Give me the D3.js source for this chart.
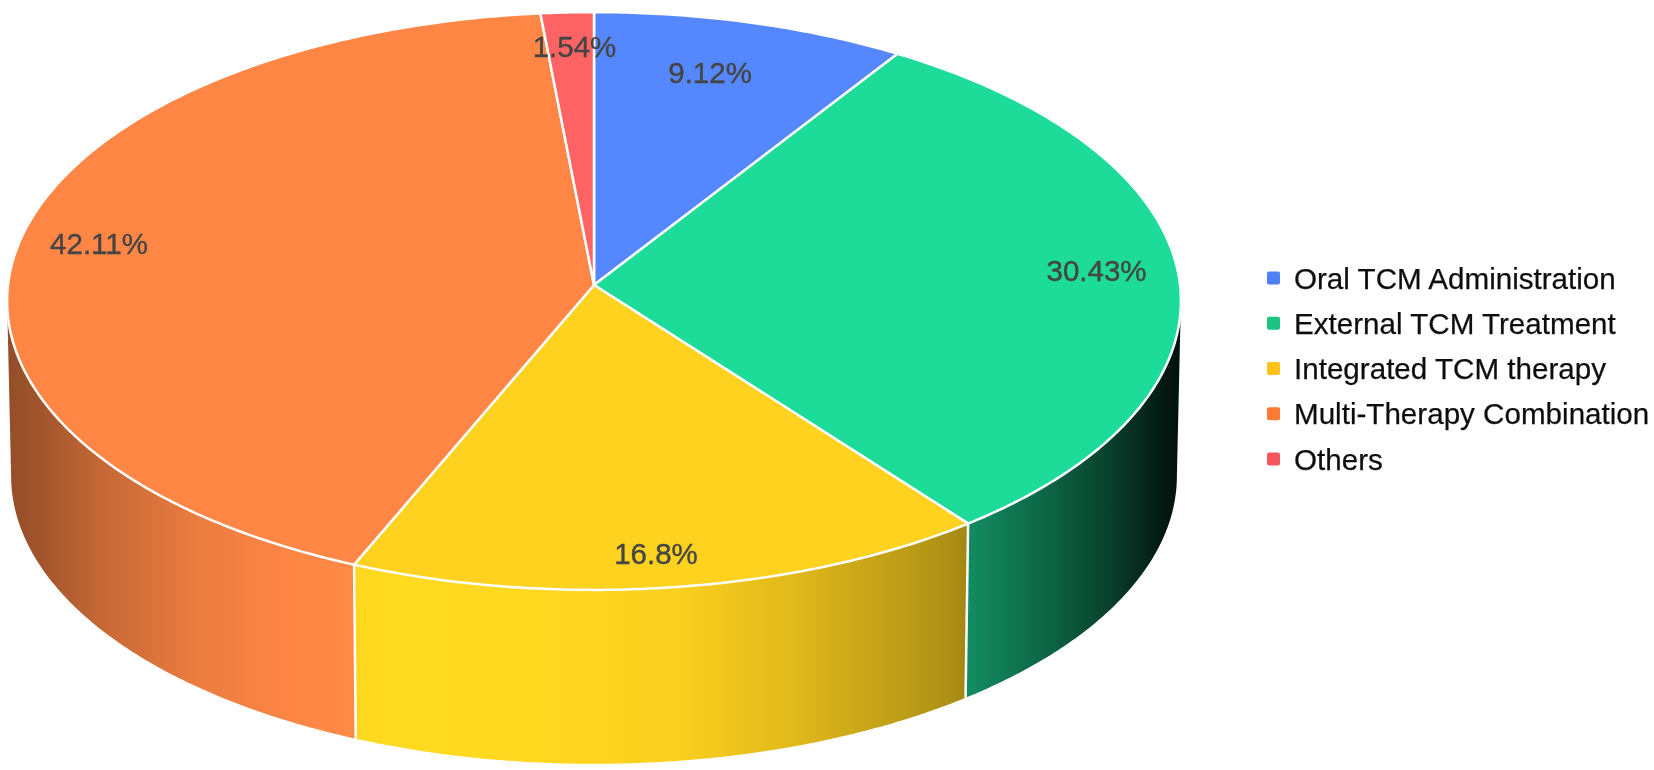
<!DOCTYPE html>
<html><head><meta charset="utf-8">
<script src="https://cdn.jsdelivr.net/npm/d3@7/dist/d3.min.js"></script>
<style>html,body{margin:0;padding:0;background:#fff;overflow:hidden}svg{display:block}text{font-family:"Liberation Sans",Arial,sans-serif}</style>
</head><body><svg id="c" width="1654" height="770"></svg>
<script>
const categories = ["Oral TCM Administration","External TCM Treatment","Integrated TCM therapy","Multi-Therapy Combination","Others"];
const values = [9.12,30.43,16.8,42.11,1.54];
const valueLabels = ["9.12%","30.43%","16.8%","42.11%","1.54%"];
const topColors = ["#5588FF","#1DDB98","#FFD21F","#FF8645","#FF6363"];
const legendColors = ["#4F7FF5","#1CC483","#FFC21A","#FF7A35","#F5545C"];

// layout
const persp = 0.0554;
const topDisc = {x0:594,y0:285,a:586,b:288};
const botDisc = {x0:594,y0:460,a:582,b:287};
const labelRadius = [0.80,0.86,0.885,0.85,0.87];
const labelNudge = [[-11,0],[0,-4],[-8,3],[-6,-5],[4,0]];
const shadeT = [0,0.023,0.078,0.164,0.25,0.33,0.45,0.57,0.67,0.80,0.89,0.946,0.99,1];
const shadeK = [0.58,0.62,0.77,0.93,1.0,1.04,1.03,0.99,0.88,0.69,0.45,0.27,0.10,0.08];

const project = (d,ang,r=1)=>{
  const u=r*Math.sin(ang), v=r*Math.cos(ang), w=1+persp*v;
  return [d.x0+d.a*u/w, d.y0-d.b*v/w];
};
const samples=(a0,a1)=>d3.range(0,1.0001,1/Math.max(2,Math.ceil((a1-a0)/0.01))).map(t=>a0+(a1-a0)*t);
const line=d3.line();
const svg=d3.select("#c");
const arcs=d3.pie().sort(null).value(d=>d)(values);

const defs=svg.append("defs");
defs.append("filter").attr("id","soft").attr("x","-5%").attr("y","-20%").attr("width","110%").attr("height","140%")
  .append("feGaussianBlur").attr("stdDeviation",0.45);
const xs=d3.scaleLinear().domain([0,1]).range([botDisc.x0-topDisc.a,botDisc.x0+topDisc.a]);
topColors.forEach((c,i)=>{
  const g=defs.append("linearGradient").attr("id","side"+i).attr("gradientUnits","userSpaceOnUse")
    .attr("x1",xs(0)).attr("x2",xs(1)).attr("y1",0).attr("y2",0);
  shadeT.forEach((t,j)=>{
    const k=shadeK[j],rgb=d3.rgb(c);
    g.append("stop").attr("offset",t).attr("stop-color",d3.rgb(Math.min(255,rgb.r*k),Math.min(255,rgb.g*k),Math.min(255,rgb.b*k)).formatHex());
  });
});

// visible side walls (front half of the drum)
const frontA=Math.PI/2+persp, frontB=3*Math.PI/2-persp;
const sides=svg.append("g");
arcs.forEach((d,i)=>{
  const a0=Math.max(d.startAngle,frontA), a1=Math.min(d.endAngle,frontB);
  if(a1<=a0) return;
  const s=samples(a0,a1);
  const pts=s.map(a=>project(topDisc,a)).concat(s.slice().reverse().map(a=>project(botDisc,a)));
  sides.append("path").attr("d",line(pts)+"Z").attr("fill",`url(#side${i})`);
});
// seams between walls
arcs.forEach(d=>{
  const a=d.endAngle;
  if(a>frontA&&a<frontB){
    sides.append("path").attr("d",line([project(topDisc,a),project(botDisc,a)]))
      .attr("stroke","#fff").attr("stroke-width",2.5).attr("fill","none");
  }
});
// top face
const faces=svg.append("g");
arcs.forEach((d,i)=>{
  const pts=[project(topDisc,0,0)].concat(samples(d.startAngle,d.endAngle).map(a=>project(topDisc,a)));
  faces.append("path").attr("d",line(pts)+"Z").attr("fill",topColors[i])
    .attr("stroke","#fff").attr("stroke-width",2.5).attr("stroke-linejoin","round");
});
// value labels
const labels=svg.append("g").attr("filter","url(#soft)");
arcs.forEach((d,i)=>{
  const m=(d.startAngle+d.endAngle)/2,[x,y]=project(topDisc,m,labelRadius[i]);
  labels.append("text").attr("x",x+labelNudge[i][0]).attr("y",y+labelNudge[i][1]).attr("dy","0.35em")
    .attr("text-anchor","middle").attr("font-size",29.5).attr("fill","#454545")
    .attr("stroke","#454545").attr("stroke-width",0.4).text(valueLabels[i]);
});
// legend
const ly=d3.scalePoint().domain(categories).range([278,459]);
const legend=svg.append("g").attr("filter","url(#soft)");
categories.forEach((c,i)=>{
  legend.append("rect").attr("x",1267).attr("y",ly(c)-6.5).attr("width",13).attr("height",13).attr("rx",2).attr("fill",legendColors[i]);
  legend.append("text").attr("x",1294).attr("y",ly(c)).attr("dy","0.36em").attr("font-size",29.6).attr("fill","#111")
    .attr("stroke","#111").attr("stroke-width",0.25).text(c);
});
</script></body></html>
